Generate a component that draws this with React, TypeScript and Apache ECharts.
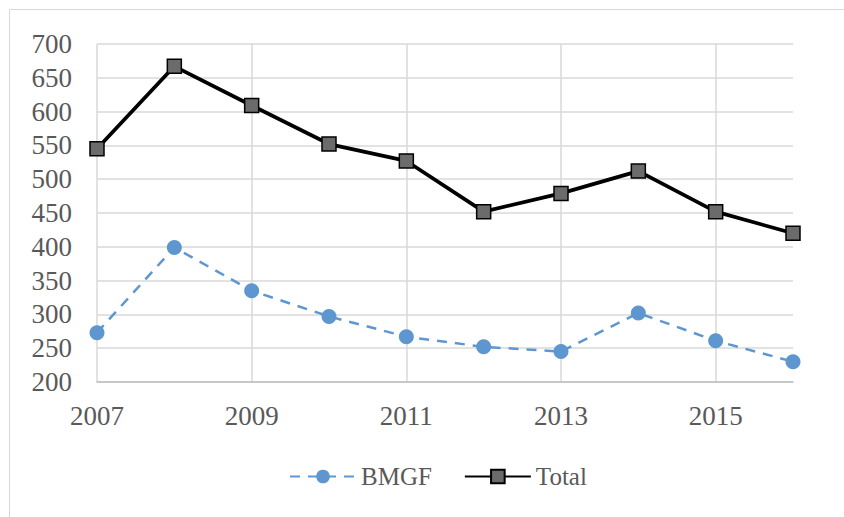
import React, { useEffect, useRef } from "react";
import * as echarts from "echarts";

const years = ["2007", "2008", "2009", "2010", "2011", "2012", "2013", "2014", "2015", "2016"];
const bmgf = [273, 399, 335, 297, 267, 252, 245, 302, 261, 230];
const total = [545, 667, 609, 552, 527, 452, 479, 512, 452, 420];
const yMin = 200;
const yMax = 700;
const yStep = 50;

const FONT = "Liberation Serif";

export default function App() {
  const ref = useRef<HTMLDivElement>(null);
  useEffect(() => {
    document.body.style.margin = "0";
    const chart = echarts.init(ref.current!, null, { renderer: "svg" });
    chart.setOption({
      animation: false,
      backgroundColor: "#ffffff",
      textStyle: { fontFamily: FONT },
      graphic: [
        {
          type: "rect",
          shape: { x: 9.5, y: 9.5, width: 900, height: 600 },
          style: { fill: "none", stroke: "#d9d9d9", lineWidth: 1 },
          silent: true,
          z: -1,
        },
      ],
      grid: { left: 97, right: 51, top: 44, bottom: 135, containLabel: false },
      legend: {
        top: 459,
        left: 284,
        itemWidth: 66,
        itemHeight: 17,
        itemGap: 32,
        textStyle: { fontFamily: FONT, fontSize: 25, color: "#595959" },
        data: ["BMGF", "Total"],
      },
      xAxis: {
        type: "category",
        data: years,
        boundaryGap: false,
        axisLine: { lineStyle: { color: "#bfbfbf", width: 1.5 } },
        axisTick: { show: false },
        axisLabel: {
          interval: 1,
          margin: 20,
          fontFamily: FONT,
          fontSize: 27,
          color: "#595959",
        },
        splitLine: {
          show: true,
          interval: (index: number) => index % 2 === 0 && index < years.length - 1,
          lineStyle: { color: "#d9d9d9", width: 1.5 },
        },
      },
      yAxis: {
        type: "value",
        min: yMin,
        max: yMax,
        interval: yStep,
        axisLine: { show: false },
        axisTick: { show: false },
        axisLabel: {
          margin: 25,
          fontFamily: FONT,
          fontSize: 27,
          color: "#595959",
        },
        splitLine: { lineStyle: { color: "#d9d9d9", width: 1.5 } },
      },
      series: [
        {
          name: "BMGF",
          type: "line",
          data: bmgf,
          symbol: "circle",
          symbolSize: 15,
          itemStyle: { color: "#5e97cf" },
          lineStyle: { color: "#5e97cf", width: 2.5, type: [10, 8] },
          z: 2,
        },
        {
          name: "Total",
          type: "line",
          data: total,
          symbol: "rect",
          symbolSize: 14,
          itemStyle: { color: "#6b6b6b", borderColor: "#000000", borderWidth: 1.5 },
          lineStyle: { color: "#000000", width: 3.75 },
          z: 3,
        },
      ],
    });
    return () => chart.dispose();
  }, []);
  return <div ref={ref} style={{ width: 844, height: 517 }} />;
}
